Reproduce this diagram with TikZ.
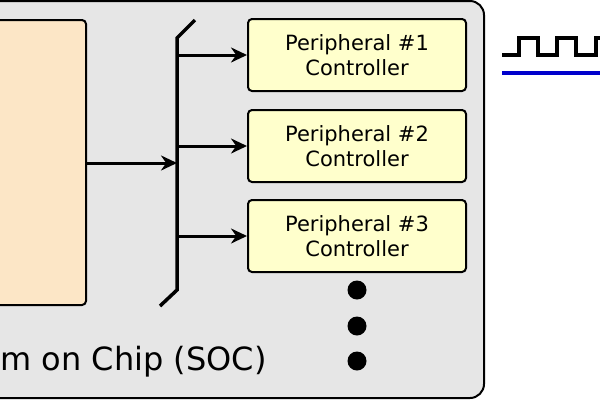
\documentclass[tikz,border=0pt]{standalone}
\usepackage{fontspec}
\setmainfont{DejaVu Sans}
\usetikzlibrary{arrows.meta}
\definecolor{socgray}{HTML}{E6E6E6}
\definecolor{cpufill}{HTML}{FCE6C6}
\definecolor{perfill}{HTML}{FFFFCC}
\begin{document}
\begin{tikzpicture}[x=1pt, y=-1pt,
    line width=2pt,
    box/.style = {draw, rounded corners=4pt, fill=perfill, minimum width=218pt,
                  minimum height=72pt, align=center, font=\fontsize{21}{25}\selectfont},
    bus/.style = {line width=3.5pt},
    link/.style = {line width=3pt, -{Stealth[length=16pt,width=15pt]}},
    dot/.style = {circle, fill=black, inner sep=0pt, minimum size=19pt}]
  \useasboundingbox (0,0) rectangle (600,400);
  % system on chip
  \draw[fill=socgray, rounded corners=14pt] (-40,1) rectangle (484,398);
  \node[draw, fill=cpufill, rounded corners=4pt, minimum width=130pt,
        minimum height=285pt] at (21,162.5) (cpu) {};
  \node[anchor=west, font=\fontsize{32}{36}\selectfont] at (-4,362) (soc) {m on Chip (SOC)};
  % bus
  \coordinate (bt) at (177,38);
  \coordinate (bb) at (177,290);
  \draw[bus] (195,20) -- (bt) -- (bb) -- (160,306);
  % peripherals
  \node[box] at (357,55)  (p1) {Peripheral \#1\\Controller};
  \node[box] at (357,146) (p2) {Peripheral \#2\\Controller};
  \node[box] at (357,236) (p3) {Peripheral \#3\\Controller};
  \foreach \n in {1,2,3}
    \draw[link] (p\n.west -| bt) -- (p\n);
  \coordinate (bc) at (177,163);
  \draw[link] (cpu.east |- bc) -- (bc);
  \node[dot] at (357,290) (d1) {};
  \node[dot] at (357,326) (d2) {};
  \node[dot] at (357,361) (d3) {};
  % clock
  \draw[line width=3.5pt] (502,55) -- (519,55) -- (519,38) -- (538,38) -- (538,55)
    -- (557,55) -- (557,38) -- (576,38) -- (576,55) -- (596,55) -- (596,38) -- (610,38);
  \draw[blue!80!black, line width=4.5pt] (502,73) -- (610,73);
\end{tikzpicture}
\end{document}
